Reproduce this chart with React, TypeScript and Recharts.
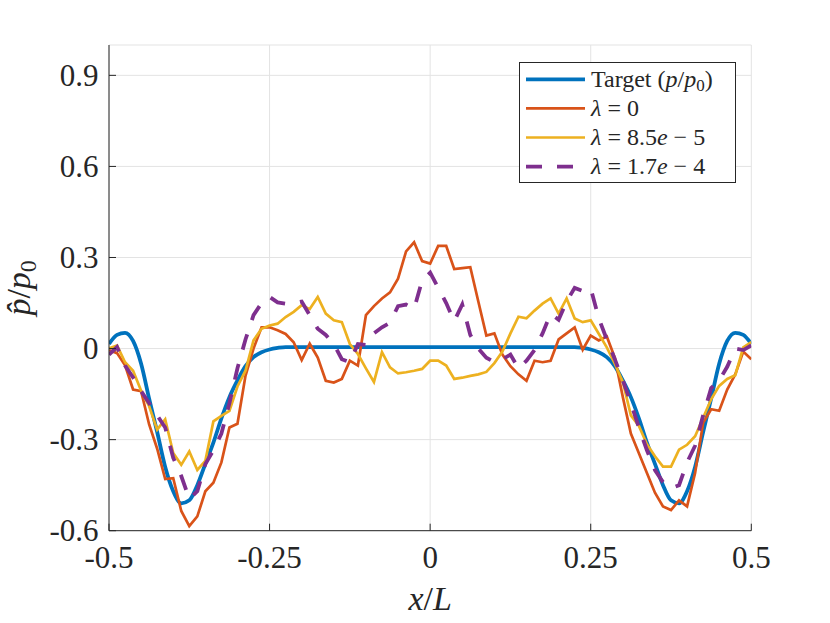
import React from "react";
import { LineChart, Line, XAxis, YAxis, CartesianGrid, Legend } from "recharts";

const xs = [
  -0.5, -0.4875, -0.475, -0.4625, -0.45, -0.4375, -0.425, -0.4125, -0.4, -0.3875,
  -0.375, -0.3625, -0.35, -0.3375, -0.325, -0.3125, -0.3, -0.2875, -0.275, -0.2625,
  -0.25, -0.2375, -0.225, -0.2125, -0.2, -0.1875, -0.175, -0.1625, -0.15, -0.1375,
  -0.125, -0.1125, -0.1, -0.0875, -0.075, -0.0625, -0.05, -0.0375, -0.025, -0.0125,
  0, 0.0125, 0.025, 0.0375, 0.05, 0.0625, 0.075, 0.0875, 0.1, 0.1125,
  0.125, 0.1375, 0.15, 0.1625, 0.175, 0.1875, 0.2, 0.2125, 0.225, 0.2375,
  0.25, 0.2625, 0.275, 0.2875, 0.3, 0.3125, 0.325, 0.3375, 0.35, 0.3625,
  0.375, 0.3875, 0.4, 0.4125, 0.425, 0.4375, 0.45, 0.4625, 0.475, 0.4875, 0.5,
];

const target = [
  0.015, 0.045, 0.052, 0.025, -0.05, -0.165, -0.275, -0.39, -0.47, -0.51,
  -0.5, -0.45, -0.38, -0.31, -0.23, -0.16, -0.105, -0.058, -0.028, -0.012,
  -0.003, 0.002, 0.005, 0.005, 0.005, 0.005, 0.005, 0.005, 0.005, 0.005,
  0.005, 0.005, 0.005, 0.005, 0.005, 0.005, 0.005, 0.005, 0.005, 0.005,
  0.005, 0.005, 0.005, 0.005, 0.005, 0.005, 0.005, 0.005, 0.005, 0.005,
  0.005, 0.005, 0.005, 0.005, 0.005, 0.005, 0.005, 0.005, 0.005, 0.002,
  -0.003, -0.012, -0.028, -0.058, -0.105, -0.16, -0.23, -0.31, -0.38, -0.45,
  -0.5, -0.51, -0.47, -0.39, -0.275, -0.165, -0.05, 0.025, 0.052, 0.045, 0.015,
];

const lambda0 = [
  -0.005, -0.015, -0.055, -0.135, -0.14, -0.25, -0.33, -0.43, -0.427, -0.535,
  -0.585, -0.553, -0.47, -0.442, -0.375, -0.26, -0.248, -0.09, 0.0, 0.07,
  0.07, 0.06, 0.048, 0.021, -0.038, 0.016, -0.03, -0.106, -0.112, -0.1,
  -0.04, -0.056, 0.11, 0.14, 0.165, 0.185, 0.23, 0.32, 0.35, 0.288,
  0.28, 0.338, 0.338, 0.262, 0.265, 0.268, 0.155, 0.043, 0.05, -0.02,
  -0.058, -0.085, -0.106, -0.04, -0.045, -0.04, 0.03, 0.05, 0.07, -0.004,
  0.043, 0.027, 0.04, -0.03, -0.16, -0.28, -0.345, -0.41, -0.475, -0.52,
  -0.532, -0.5, -0.52, -0.41, -0.245, -0.2, -0.205, -0.135, -0.085, -0.01, -0.035,
];

const lambda85 = [
  0.0, 0.01, -0.045, -0.073, -0.139, -0.19, -0.267, -0.233, -0.344, -0.383,
  -0.339, -0.4, -0.37, -0.24, -0.222, -0.205, -0.125, -0.073, 0.027, 0.065,
  0.076, 0.082, 0.104, 0.121, 0.143, 0.13, 0.17, 0.115, 0.093, 0.087,
  0.015, -0.018, -0.065, -0.11, -0.012, -0.062, -0.082, -0.078, -0.073, -0.067,
  -0.04, -0.04, -0.056, -0.1, -0.096, -0.09, -0.085, -0.077, -0.048, -0.01,
  0.05, 0.105, 0.1, 0.125, 0.148, 0.165, 0.115, 0.165, 0.099, 0.087,
  0.093, 0.049, 0.004, -0.05, -0.11, -0.22, -0.255, -0.315, -0.355, -0.389,
  -0.389, -0.333, -0.317, -0.289, -0.228, -0.167, -0.123, -0.1, -0.088, 0.004, 0.021,
];

const lambda17 = [
  -0.02, 0.005, -0.056, -0.095, -0.14, -0.18, -0.22, -0.26, -0.36, -0.42,
  -0.495, -0.47, -0.38, -0.335, -0.28, -0.18, -0.065, 0.03, 0.11, 0.15,
  0.17, 0.152, 0.148, 0.15, 0.155, 0.11, 0.065, 0.045, 0.015, -0.035,
  -0.045, 0.015, 0.012, 0.05, 0.07, 0.085, 0.14, 0.145, 0.13, 0.225,
  0.25, 0.2, 0.15, 0.09, 0.145, 0.045, 0.0, -0.03, -0.045, -0.035,
  -0.02, -0.065, -0.04, -0.005, 0.05, 0.115, 0.095, 0.155, 0.2, 0.19,
  0.198, 0.1, 0.03, -0.035, -0.105, -0.18, -0.26, -0.335, -0.4, -0.44,
  -0.46, -0.45, -0.375, -0.32, -0.22, -0.13, -0.105, -0.06, 0.0, -0.005, 0.01,
];

const xTicks = [-0.5, -0.25, 0, 0.25, 0.5];
const xTickLabels = ["-0.5", "-0.25", "0", "0.25", "0.5"];
const yTicks = [-0.6, -0.3, 0, 0.3, 0.6, 0.9];
const yTickLabels = ["-0.6", "-0.3", "0", "0.3", "0.6", "0.9"];

const rows = xs.map((x, i) => ({
  x,
  target: target[i],
  l0: lambda0[i],
  l85: lambda85[i],
  l17: lambda17[i],
}));

const FONT = "'Liberation Serif', 'DejaVu Serif', serif";
const INK = "#262626";

const series = [
  { key: "target", color: "#0072BD", width: 3.8, dash: undefined as string | undefined, type: "monotone" },
  { key: "l0", color: "#D95319", width: 2.7, dash: undefined as string | undefined, type: "linear" },
  { key: "l85", color: "#EDB120", width: 2.7, dash: undefined as string | undefined, type: "linear" },
  { key: "l17", color: "#7E2F8E", width: 3.8, dash: "16 15", type: "linear" },
];

const it = (s: string) => <tspan fontStyle="italic">{s}</tspan>;

const legendLabels = [
  <>Target ({it("p")}/{it("p")}<tspan fontSize={17} dy={4}>0</tspan><tspan dy={-4}>)</tspan></>,
  <>{it("λ")} = 0</>,
  <>{it("λ")} = 8.5{it("e")} − 5</>,
  <>{it("λ")} = 1.7{it("e")} − 4</>,
];

function LegendBox() {
  return (
    <svg width={217} height={121} style={{ display: "block" }}>
      <rect x={0.5} y={0.5} width={216} height={120} fill="#ffffff" stroke={INK} strokeWidth={1} />
      {series.map((s, i) => {
        const cy = 17.3 + i * 29.1;
        return (
          <g key={s.key}>
            <line x1={7} x2={66} y1={cy} y2={cy} stroke={s.color} strokeWidth={s.width} strokeDasharray={s.dash} />
            <text x={72} y={cy + 7.5} fontSize={24} fontFamily={FONT} fill={INK}>
              {legendLabels[i]}
            </text>
          </g>
        );
      })}
    </svg>
  );
}

function XTick(props: any) {
  const { x, y, index } = props;
  return (
    <g>
      <line x1={x} x2={x} y1={y} y2={y - 7} stroke={INK} strokeWidth={1} />
      <text x={x} y={y + 37.5} textAnchor="middle" fontSize={31} fontFamily={FONT} fill={INK}>
        {xTickLabels[index]}
      </text>
    </g>
  );
}

function YTick(props: any) {
  const { x, y, index } = props;
  return (
    <g>
      <line x1={x} x2={x + 7} y1={y} y2={y} stroke={INK} strokeWidth={1} />
      <text x={x - 10.5} y={y + 10.5} textAnchor="end" fontSize={31} fontFamily={FONT} fill={INK}>
        {yTickLabels[index]}
      </text>
    </g>
  );
}

function XLabel(props: any) {
  const vb = props.viewBox || { x: 109, y: 530.7, width: 642.3, height: 92.3 };
  const cx = vb.x + vb.width / 2;
  return (
    <text x={cx} y={vb.y + 79} textAnchor="middle" fontSize={34} fontFamily={FONT} fill={INK}>
      {it("x")}/{it("L")}
    </text>
  );
}

function YLabel(props: any) {
  const vb = props.viewBox || { x: 0, y: 45, width: 109, height: 485.7 };
  const cy = vb.y + vb.height / 2;
  const bx = 30;
  return (
    <text
      x={bx}
      y={cy}
      transform={`rotate(-90, ${bx}, ${cy})`}
      textAnchor="middle"
      fontSize={34}
      fontFamily={FONT}
      fill={INK}
    >
      {it("p\u0302")}/{it("p")}
      <tspan fontSize={24} dy={6}>0</tspan>
    </text>
  );
}

export default function App() {
  return (
    <div style={{ position: "absolute", left: 0, top: 0, width: 830, height: 623, background: "#ffffff" }}>
      <LineChart width={830} height={623} data={rows} margin={{ top: 45, right: 78.7, bottom: 0, left: 0 }}>
        <CartesianGrid stroke="#e3e3e3" strokeWidth={1} />
        <XAxis
          dataKey="x"
          type="number"
          domain={[-0.5, 0.5]}
          ticks={xTicks}
          interval={0}
          height={92.3}
          tickSize={0}
          tickMargin={0}
          tickLine={false}
          axisLine={{ stroke: INK, strokeWidth: 1 }}
          tick={XTick}
          label={<XLabel />}
          allowDataOverflow
        />
        <YAxis
          type="number"
          domain={[-0.6, 1]}
          ticks={yTicks}
          interval={0}
          width={109}
          tickSize={0}
          tickMargin={0}
          tickLine={false}
          axisLine={{ stroke: INK, strokeWidth: 1 }}
          tick={YTick}
          label={<YLabel />}
          allowDataOverflow
        />
        {series.map((s) => (
          <Line
            key={s.key}
            dataKey={s.key}
            type={s.type as any}
            stroke={s.color}
            strokeWidth={s.width}
            strokeDasharray={s.dash}
            dot={false}
            activeDot={false}
            isAnimationActive={false}
          />
        ))}
        <Legend
          layout="vertical"
          align="center"
          verticalAlign="middle"
          content={<LegendBox />}
          wrapperStyle={{ position: "absolute", left: 519, top: 62, width: 217, height: 121, bottom: "auto", right: "auto" }}
        />
      </LineChart>
    </div>
  );
}
